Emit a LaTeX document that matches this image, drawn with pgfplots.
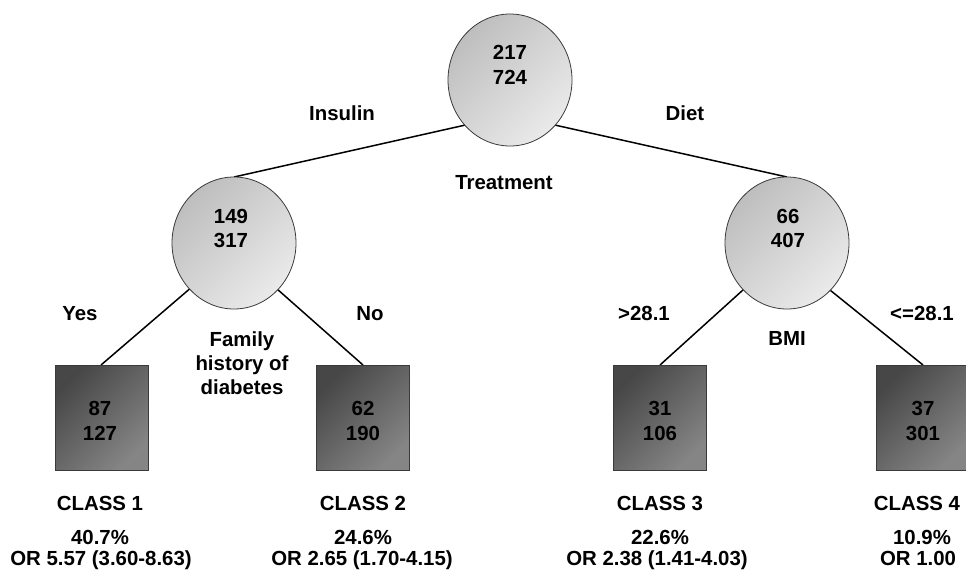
\documentclass[border=0pt]{standalone}
\usepackage{fontspec}
\setmainfont{Liberation Sans}
\usepackage{pgfplots}
\pgfplotsset{compat=1.18}
\usetikzlibrary{shapes.geometric}
\definecolor{circA}{HTML}{BEBEBE}
\definecolor{circB}{HTML}{EAEAEA}
\definecolor{boxA}{HTML}{474747}
\definecolor{boxB}{HTML}{858585}
\definecolor{edgeC}{HTML}{3A3A3A}
\tikzset{lab/.style={anchor=base, font=\fontsize{20.4}{24}\selectfont\bfseries, inner sep=0pt, text=black}}
\begin{document}
\begin{tikzpicture}
\begin{axis}[
  x=1pt, y=1pt, y dir=reverse,
  xmin=0, xmax=966, ymin=0, ymax=571,
  hide axis, clip=false,
]
\coordinate (bl) at (rel axis cs:0,0);
\coordinate (tr) at (rel axis cs:1,1);
% edges
\addplot[black, line width=1.5pt] coordinates {(234,177) (510,115)};
\addplot[black, line width=1.5pt] coordinates {(510,115) (787,177)};
\addplot[black, line width=1.5pt] coordinates {(200,280) (101,365)};
\addplot[black, line width=1.5pt] coordinates {(268,281) (363,365)};
\addplot[black, line width=1.5pt] coordinates {(754,280) (660,365)};
\addplot[black, line width=1.5pt] coordinates {(820,282) (923,365)};
% circles (internal nodes)
\addplot[draw=none, nodes near coords={},
  every node near coord/.append style={anchor=center, ellipse, draw=edgeC, line width=0.8pt,
    minimum width=124pt, minimum height=132pt, inner sep=0pt,
    top color=circA, bottom color=circB, shading angle=45}]
  coordinates {(510,80) (234,243) (787,243)};
% squares (terminal nodes)
\addplot[draw=none, nodes near coords={},
  every node near coord/.append style={anchor=center, rectangle, draw=edgeC, line width=0.8pt,
    minimum width=93pt, minimum height=105pt, inner sep=0pt,
    top color=boxA, bottom color=boxB, shading angle=45}]
  coordinates {(101.5,417.5) (363,417.5) (660,417.5) (923,417.5)};
% counts inside the nodes
\addplot[draw=none, point meta=explicit symbolic, nodes near coords,
  every node near coord/.append style={lab}]
  coordinates {
   (510,59) [217] (510,84) [724]
   (231,223) [149] (231,247) [317]
   (788,223) [66] (788,247) [407]
   (100,415) [87] (100,440) [127]
   (363,415) [62] (363,440) [190]
   (660,415) [31] (660,440) [106]
   (923,415) [37] (923,440) [301]
  };
% texts
\node[lab] at (axis cs:342,120) {Insulin};
\node[lab] at (axis cs:685,120) {Diet};
\node[lab] at (axis cs:504,189) {Treatment};
\node[lab] at (axis cs:80,320) {Yes};
\node[lab] at (axis cs:370,320) {No};
\node[lab] at (axis cs:644,320) {>28.1};
\node[lab] at (axis cs:922,320) {<=28.1};
\node[lab] at (axis cs:242,346) {Family};
\node[lab] at (axis cs:242,370) {history of};
\node[lab] at (axis cs:242,394) {diabetes};
\node[lab] at (axis cs:787,345) {BMI};
\node[lab] at (axis cs:100,510) {CLASS 1};
\node[lab] at (axis cs:100,544) {40.7\%};
\node[lab] at (axis cs:101,565) {OR 5.57 (3.60-8.63)};
\node[lab] at (axis cs:363,510) {CLASS 2};
\node[lab] at (axis cs:363,544) {24.6\%};
\node[lab] at (axis cs:362,565) {OR 2.65 (1.70-4.15)};
\node[lab] at (axis cs:660,510) {CLASS 3};
\node[lab] at (axis cs:660,544) {22.6\%};
\node[lab] at (axis cs:657,565) {OR 2.38 (1.41-4.03)};
\node[lab] at (axis cs:917,510) {CLASS 4};
\node[lab] at (axis cs:922,544) {10.9\%};
\node[lab] at (axis cs:918,565) {OR 1.00};
\end{axis}
\pgfresetboundingbox
\useasboundingbox (bl) rectangle (tr);
\end{tikzpicture}
\end{document}
